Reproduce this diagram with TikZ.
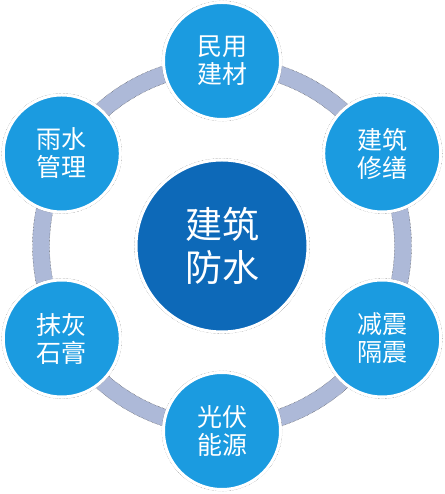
\documentclass[tikz,border=0pt]{standalone}
\usepackage{fontspec}
\usetikzlibrary{calc}
\newfontfamily\cjk{Noto Sans CJK SC}
\definecolor{outerblue}{HTML}{1B9BE0}
\definecolor{centerblue}{HTML}{0D69B8}
\definecolor{ringcol}{HTML}{ADB9D8}
\definecolor{edgecol}{HTML}{333333}
\begin{document}
\begin{tikzpicture}[x=1pt,y=1pt,
  ringline/.style={draw=ringcol,line width=17pt},
  ringedge/.style={draw=edgecol,line width=0.4pt,densely dotted},
  outernode/.style={circle,fill=outerblue,draw=white,line width=3pt,minimum size=117pt,inner sep=0pt,
     text=white,font=\cjk\fontsize{25}{28}\selectfont,align=center},
  outeredge/.style={circle,draw=edgecol,line width=0.4pt,densely dotted,minimum size=120pt,inner sep=0pt},
  centernode/.style={circle,fill=centerblue,draw=white,line width=3pt,minimum size=172pt,inner sep=0pt,
     text=white,font=\cjk\fontsize{37}{43}\selectfont,align=center},
  centeredge/.style={circle,draw=edgecol,line width=0.4pt,densely dotted,minimum size=175pt,inner sep=0pt}]
\useasboundingbox (0,0) rectangle (444,494);
\fill[white] (0,0) rectangle (444,494);
\coordinate (o) at (222,248);
% ring
\draw[ringline] (o) circle[radius=181];
\draw[ringedge] (o) circle[radius=189.5];
\draw[ringedge] (o) circle[radius=172.5];
% center
\node[centeredge] at (o) {};
\node[centernode] (c) at (o) {建筑\\防水};
% outer circles
\foreach \n/\a/\t in {t/90/民用\\建材, tr/30/建筑\\修缮, br/-30/减震\\隔震, b/-90/光伏\\能源, bl/210/抹灰\\石膏, tl/150/雨水\\管理}{
  \node[outeredge] at ($(o)+(\a:185)$) {};
  \node[outernode] (\n) at ($(o)+(\a:185)$) {\t};
}
\end{tikzpicture}
\end{document}
